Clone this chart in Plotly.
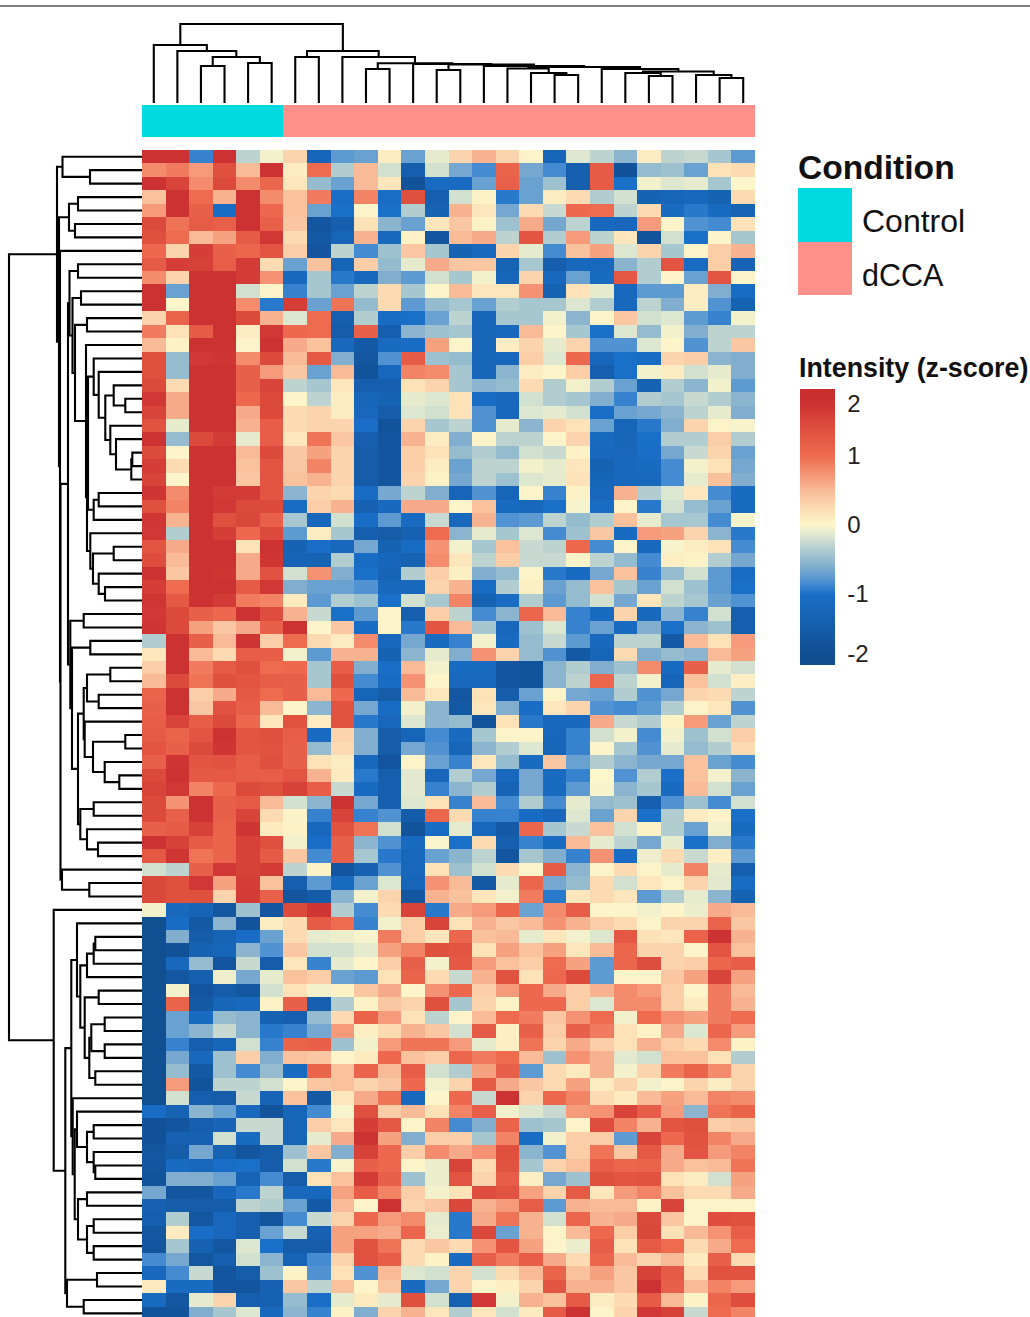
import numpy as np
import plotly.graph_objects as go

W, H = 1030, 1317

CONDITION = ["Control"] * 6 + ["dCCA"] * 20

# first 13 columns
LEFT_CELLS = [
[2,2,-0.9,2,-0.3,-0.05,0.3,-1.3,-0.75,-0.7,0.1,-0.7,-0.1],
[.8,.9,.7,1.5,.5,2,.1,1.0,-.35,.5,-.2,-1.5,-.2],
[2,1.7,.8,1.6,.8,1.1,.15,-.5,-.7,.5,.15,-1.9,-1.15],
[.45,2,1.0,.55,2,.8,.45,.9,-1.05,.85,-1.05,1.5,-1.5],
[.7,2,1.2,-1.1,2,1.05,.45,-.7,-1.0,.02,-1.0,-.35,-1.4],
[1.6,.95,1.3,1.2,2,1.2,.4,-1.8,-1.5,.2,-.55,-.7,.15],
[1.5,1.0,.5,.65,1.3,1.9,.25,-1.7,-1.3,.55,-1.2,.05,-1.8],
[1.05,.3,1.8,1.2,1.1,1.4,.35,-1.8,-.3,-.85,-.45,.4,-.4],
[1.3,1.8,1.75,1.25,1.85,.25,-.7,.45,-1.3,.35,-.5,-.1,.6],
[.8,.3,2,2,1.85,.75,-1.2,-.4,-.95,-1.2,-.6,-.75,-.2],
[2,-.7,2,2,-.2,.02,-.9,-.4,-.7,-.3,.25,-.4,.02],
[2,.0,2,2,.8,-.95,1.8,-.7,.95,-.5,.25,-.75,-.5],
[.3,1.15,2,2,1.6,.55,-.15,1.0,-1.5,-.35,-1.1,-1.0,-.7],
[.9,.2,1.3,2,.1,1.9,1.05,1.0,-1.6,1.2,-1.5,-.55,-.45],
[.5,.05,2,2,.03,2,.6,.45,-1.2,-1.65,-1.15,-1.1,.65],
[1.5,-.5,1.9,1.95,.8,1.6,.5,1.35,-.6,-1.75,-.8,1.3,-.45],
[1.5,-.5,2,2,1.2,.7,.4,-.7,.5,-1.85,-1.25,.85,.8],
[1.6,.25,2,2,1.2,1.7,-.3,-.4,.15,-1.5,-1.5,.2,.3],
[1.9,.6,2,2,1.05,1.6,.02,-.3,.1,-1.3,-1.4,-.1,-.15],
[1.7,.6,2,2,.6,1.6,.25,.3,.1,-1.25,-1.55,-.15,-.2],
[1.45,-.1,2,2,.55,1.25,.25,.3,.3,-1.05,-1.85,.3,-.4],
[2,-.5,1.6,1.85,-.1,1.25,.15,.95,.4,-1.5,-1.8,.55,.1],
[1.6,.02,2,2,.5,1.6,.4,.65,.3,-1.6,-1.8,.35,.2],
[1.8,.25,2,2,.45,1.4,.4,.85,.3,-1.6,-1.8,.35,.1],
[1.7,.02,2,2,.4,1.4,.45,.55,.3,-1.6,-1.8,.3,.05],
[1.95,.8,2,1.85,1.85,1.4,-.55,.3,.25,-1.1,-.65,-.3,-.6],
[1.5,.85,2,1.9,1.6,1.6,-1.1,.35,.55,-1.45,-1.2,.6,.6],
[1.95,.55,2,1.5,1.65,1.2,-.4,-1.25,-.2,-1.05,-.75,-1.15,-.25],
[1.9,-.35,2,1.8,1.05,1.6,-.75,.1,-.4,-1.5,-1.6,-1.45,1.0],
[1.4,.6,2,2,.2,2,-1.4,-1.05,-1.2,-.65,-1.4,-1.1,.75],
[1.55,.5,2,2,.6,1.95,-1.35,-1.4,-.35,-1.1,-1.25,-1.4,.8],
[2,.4,2,1.95,.6,1.45,-.2,.75,-.6,-1.0,-1.35,-.35,.35],
[1.8,1.0,2,2,1.3,1.9,-.6,-.7,-.7,-.8,-1.2,-1.2,.3],
[1.95,1.35,2,1.85,.9,.85,.12,-.75,-.35,-.45,-1.0,-.2,-.4],
[1.9,1.6,1.2,1.05,2,1.55,.55,-.25,-1.0,-.75,.02,-1.5,.35],
[1.95,1.6,.65,.4,.6,1.2,2,.02,.4,-1.1,.02,-.95,1.4],
[-.35,2,1.2,.5,1.95,.35,1.0,.25,.1,.8,-1.25,-.65,-1.15],
[.15,2,.5,.25,1.25,1.25,-.05,-.75,.55,.55,-1.4,-.55,-.1],
[.35,2,.9,1.3,1.5,1.0,1.05,-.4,1.25,-.6,-1.05,.5,-.05],
[.5,1.6,.95,1.5,1.4,1.25,1.2,-.4,1.5,-.85,-1.1,.75,.02],
[1.15,2,.35,.6,1.35,1.0,1.2,.5,1.05,-1.3,-1.6,.5,.15],
[1.2,2,.4,1.45,1.25,.5,.02,-.55,1.45,-.65,-1.1,-.05,-.55],
[1.25,1.7,1.25,1.6,1.05,.15,1.45,.1,1.45,-.95,-1.25,-.15,-.55],
[1.3,1.15,1.4,2,1.4,1.5,1.25,-1.15,.3,-.6,-1.6,-1.3,-.85],
[1.4,1.2,1.6,1.95,1.4,1.45,1.2,-.5,.25,-.6,-1.6,-.65,-.8],
[1.2,1.95,1.4,1.45,1.25,1.5,1.2,.2,.1,-1.2,-1.8,.03,-.7],
[1.6,2,1.35,1.35,1.25,1.25,1.4,.55,.12,-.95,-1.5,-.12,-1.25],
[1.7,1.9,.85,1.05,1.6,1.5,1.75,1.25,-.25,-1.15,-1.5,-.12,-.9],
[1.6,.75,2,1.2,1.3,.5,-.2,-.55,2,-.65,-1.5,-.15,.2],
[1.6,1.2,2,1.2,1.7,.25,.03,-.9,1.7,-.9,-.8,-1.55,1.1],
[1.2,1.3,1.75,1.15,1.95,.12,.05,-1.2,1.45,.95,-.2,-1.85,-1.1],
[2,1.75,1.3,1.15,1.75,1.5,-.05,-1.05,1.2,-.55,-.8,-1.15,-.02],
[1.35,1.95,.95,1.15,1.75,1.3,.4,-.85,1.2,-.4,-.95,-1.25,-.7],
[-.2,-.3,1.2,1.9,1.75,1.85,-.3,.05,-1.8,-1.45,-.8,-1.25,.2],
[1.65,1.5,1.9,.65,1.8,.45,-1.5,-.75,-1.15,-.7,-.15,-1.3,.75],
[1.65,1.5,1.5,.3,1.85,1.2,-1.8,-1.55,-.55,-.05,.3,-1.8,.55],
[-.05,-1.2,-1.35,-1.75,-.45,-1.8,1.6,1.95,-.35,-.85,.25,1.7,-.95],
[-2,-1.1,-1.7,-.55,-1.85,.1,.25,1.3,1.0,-.9,-.05,.35,1.7],
[-2,-.6,-1.6,-1.4,-1.05,-.7,.25,-.1,-.07,-.03,.9,.35,.15],
[-2,-1.9,-1.4,-1.3,-.55,-.8,.4,-.2,-.2,-.1,.65,.85,1.5],
[-2,-1.2,-.5,-1.8,-.25,-1.55,.15,-.9,-.1,.02,.35,1.2,-.05],
[-2,-1.75,-1.5,-.07,-.65,-.1,.45,.35,-.7,-.75,.2,1.15,.25],
[-2,-.05,-1.8,-1.55,-1.75,-.2,.2,-.05,.05,.4,.6,.02,.75],
[-2,1.15,-1.7,-1.3,-1.2,.05,1.2,-1.5,-.35,.05,.4,.3,1.5],
[-2,-.7,-1.15,-.5,-.55,-1.4,-1.5,-.5,.25,1.15,.7,.2,-.3],
[-2,-.7,-.55,-.25,-.55,-.95,-.9,-.65,.7,.08,.25,.55,.4],
[-2,-.9,-1.5,-1.3,-.2,-.9,1.15,1.2,-.45,-.05,.7,.95,.95],
[-2,-.65,-1.2,-.45,.35,-.6,.45,.4,.02,.12,1.05,.45,.35],
[-2,-.5,-1.7,-.45,-.85,-.5,-1.15,1.15,.45,1.15,.5,1.25,-.2],
[-2,.7,-1.85,-.3,-.3,-.2,.02,.4,.45,.3,.4,1.05,-.05],
[-2,-.2,-1.5,-1.6,-.25,-1.35,.45,-1.7,.15,.6,.95,-1.2,.02],
[-1.05,-1.4,-.55,-.7,-1.2,-1.85,-1.3,-.85,-.03,1.5,.35,.5,.2],
[-1.9,-1.8,-1.5,-1.35,-.25,-.25,-1.3,.35,.15,1.8,1.35,.03,.85],
[-1.9,-1.45,-1.45,-.2,-1.15,-.25,-1.3,-.1,.6,2,.65,-.6,.35],
[-1.75,-1.6,-.65,-1.4,-1.8,-1.6,-.45,.4,-.6,1.75,1.05,.35,.8],
[-1.8,-1.15,-1.25,-1.05,-1.0,-1.55,-.2,-.95,-.03,1.2,1.05,.02,-.08],
[-1.85,-.6,-.6,-.7,-1.35,-.85,-1.6,.2,.45,1.85,1.2,-.45,-.08],
[-.65,-1.8,-1.75,-1.25,-.95,-.3,-1.2,-1.2,.65,1.25,.85,.35,-.05],
[-1.45,-1.6,-1.55,-1.55,-.3,-.35,-.7,-1.65,.5,.03,2,.3,.4],
[-1.5,-.35,-1.75,-1.25,-1.5,-1.8,-.85,-.25,.3,1.05,.7,.8,-.1],
[-1.75,.12,-1.05,-1.25,-1.5,-.7,-.25,-1.45,.65,.65,.6,1.1,-.08],
[-1.8,-.4,-1.45,-1.75,-.15,-1.0,-1.55,-1.55,.65,1.45,.95,.25,.4],
[-.85,-.65,-1.75,-1.5,-.2,-.55,-1.35,-.85,.3,1.45,1.25,.25,.05],
[-1.2,-.85,-.25,-1.8,-1.6,-.45,.05,-.8,.2,-.8,.5,-.15,-.2],
[.12,-1.15,-1.15,-1.8,-1.8,-1.45,.4,-.3,.45,.02,.4,-1.15,-.65],
[-1.15,-1.75,-.1,.3,-1.5,-1.45,-.5,-1.05,-.1,.12,-.1,1.5,-.2],
[-1.85,-1.85,-.6,-.4,-.15,-1.2,-.55,-.9,.05,-.6,.3,.55,.15],
]

# last 13 columns
RIGHT_CELLS = [
[.3,.55,.3,.03,-1.3,-.15,-.3,-.55,.1,-.3,-.25,-.4,-.75],
[-.65,-.85,1.15,-.65,-.85,-1.5,1.3,-1.9,-.5,-.45,-.7,.2,.25],
[-1.15,-.7,1.2,-.7,-.45,-1.5,1.3,-1.0,-.05,-.15,-.1,-.4,.0],
[-.2,.05,-.95,-.7,.1,.25,-.35,-.2,-1.4,-1.3,-1.2,-1.4,.25],
[.55,.15,-.65,.25,-.25,1.05,1.0,-.3,.25,-1.15,-.95,-1.15,-1.35],
[.4,.05,-.45,.6,-.65,-.3,-1.2,-1.25,.7,.03,-.8,-.85,.2],
[.5,.6,-.3,1.4,-.35,.7,-.3,.15,-1.85,-.2,-1.0,.02,-.4],
[-1.4,-1.2,.3,-.1,-.85,.45,.65,-.15,.3,-.4,.02,.35,.55],
[.4,.4,-1.4,-.4,-1.5,-1.2,-1.2,-.55,-.35,1.4,-1.15,.35,-1.35],
[-.4,-.05,-1.3,.3,-1.2,-.7,-1.15,1.35,-.35,.02,-.7,1.4,.02],
[.5,.15,.15,.75,-1.4,.2,-.1,-1.2,-.75,-.75,.1,-.6,-1.1],
[-.4,-.7,-.35,-.4,-.4,-.15,-.35,-1.2,-.3,-.6,.1,-.8,-1.4],
[-.3,-1.3,-.4,-.4,-.05,-.55,.03,.4,-.2,-.15,-.75,-.9,-.05],
[-.4,-1.3,-1.2,.5,.02,-.4,-1.0,-.15,-.5,-.05,-.6,-.3,-.3],
[.02,-1.3,.1,.3,-.1,.3,-.8,-.8,-.15,.02,-.8,-.3,.4],
[-.5,-1.3,-1.25,.35,-.15,1.05,-1.25,-1.0,-1.1,.3,.35,-.55,-.6],
[-.4,-1.3,-.55,.1,.02,.35,-1.5,-1.0,-.05,.1,-.2,-.1,-.6],
[-.4,-.55,-.5,.25,-.35,-.05,-.35,-.7,-1.4,-.35,-.55,-.05,-.75],
[.2,-1.1,-1.2,-.2,-.35,-.4,-.6,-.9,-.35,-.4,-.25,-.35,-.55],
[.2,-.8,-1.2,-.15,-.1,-.2,-1.05,-.7,-.65,-.55,-.3,-.1,-.6],
[-.3,-.8,-.1,-.55,.3,.2,-.7,-1.3,-.95,-.6,.3,.03,-.03],
[-.6,.03,-.3,-.3,.03,.3,-1.15,-1.3,-1.0,-.35,-.35,.35,-.35],
[-.5,-.35,-.5,-.2,-.25,.05,-1.2,-1.25,-1.05,-.65,-.25,.3,-.7],
[-.7,-.3,-.3,-.05,-.1,.15,-1.4,-1.2,-1.15,-.85,-.05,.2,-.65],
[-.65,-.3,-.45,-.15,-.1,.2,-1.3,-1.2,-1.2,-.85,-.1,.45,-.6],
[-1.3,-.8,-1.3,.03,-.9,.05,-1.25,.55,-.35,-.15,.15,-.85,-1.15],
[.02,.45,-1.15,-1.2,-1.0,-.03,-1.1,.03,-.95,-.2,-.5,-.7,-1.15],
[-1.2,.55,-.8,-.75,-.3,-.5,-.35,.45,-.1,-.4,-.4,-.85,-.03],
[-.55,-.1,-.4,-.15,-.85,-.45,.4,-1.15,.7,.65,.3,-.55,-.95],
[-.05,-.4,.45,-.25,-.3,1.05,-.85,.02,-1.2,-.03,.1,.2,-.85],
[.15,-.3,.35,-.25,-.25,.03,-.3,-.5,-.85,.08,.05,-.35,-.65],
[.07,-.6,-.5,.03,-.95,-1.15,-.65,.45,-.9,-.5,-.2,-.75,-1.1],
[.55,-1.1,-.35,.07,-.7,-.5,.45,-.4,-.7,-.2,-.45,-.75,-1.0],
[.85,-1.4,-1.1,-.35,-.75,-.5,-.2,-.65,.15,-.3,-.4,-.7,-.8],
[-.3,-.85,-.55,1.1,.5,-.9,-1.15,.3,-1.2,-.55,-.9,-.2,-1.5],
[.5,-.4,-1.25,-.45,-.15,-.9,-.7,-1.15,-.6,-1.0,-.55,-.45,-1.5],
[-.9,-.05,-1.15,-.5,-.25,-.75,-1.2,-.3,-.3,-1.65,.5,.2,.7],
[-.6,.75,.3,-.5,-.8,-1.7,-1.3,.25,-.6,-.5,-.55,.5,.65],
[-1.15,-1.15,-1.8,-1.85,-.55,-.35,-.6,-.45,.8,-1.15,1.2,-.1,-.2],
[-1.2,-1.2,-1.8,-1.85,-.55,-.3,1.1,-.3,-.05,-1.3,.45,-.2,.08],
[-1.75,.2,-1.55,-.7,.03,-.65,-.7,-.35,-.8,-.65,.3,.25,-.3],
[-1.7,.15,-.6,-1.1,.15,.3,-.8,-.85,-.75,-.35,.03,.15,-.8],
[-.5,-1.85,.2,-.95,-1.2,-1.2,.6,-.25,-.35,.05,.7,-.7,-.3],
[-1.15,-.4,.03,.03,-1.25,-.9,-.2,-.05,-.85,-.05,-.45,-.2,.35],
[-1.3,-.55,-.35,-.15,-1.3,-.9,.02,-.4,-.8,-.1,-.5,-.35,.25],
[-.9,.15,-.5,-1.15,.4,-.7,-.35,-.55,-.65,-.65,.45,-.7,-.85],
[-.35,-.65,-1.2,-.65,-1.15,-.9,.0,-.8,-.35,-1.0,.45,-.05,-.55],
[-.55,-.35,-1.35,-.65,-1.15,-.75,-.03,-.55,-.4,-1.15,.5,-.2,-.7],
[-.9,.5,-.85,-.35,-.85,-.1,-.5,-.45,-1.5,-.8,-.45,-.85,-.2],
[.25,-.9,-.9,-1.1,-1.25,-.15,-.7,.3,-1.0,-.35,.1,.03,-1.0],
[-.1,-1.2,-1.65,1.1,-.4,-.25,.45,-.2,.05,-.35,-.7,-.05,-1.15],
[-1.0,.25,-1.5,-.9,-1.15,.5,-.1,-.3,-.65,-.1,-1.0,-.6,-.95],
[-.55,-.3,-1.8,-.4,-.6,-.9,.75,-1.1,-.07,.25,-.25,.08,-.75],
[-.45,-.2,.25,.03,1.3,-.55,.03,.25,.03,-.1,.85,-.1,-1.5],
[.5,-1.7,-.1,1.1,-.65,-.5,.25,-.2,.15,.03,.3,-.12,-1.1],
[.45,.15,-.05,.9,-.95,.15,.25,.15,-.75,-.35,-.1,-.55,-1.4],
[.6,.7,1.1,-.7,.8,1.25,.02,.02,-.05,.02,-.08,.6,.5],
[.2,.55,.4,.5,.75,.55,.35,.25,.03,.3,.3,1.15,.4],
[1.1,.45,.5,-.1,.15,-.05,-.15,1.35,.2,.15,1.15,2,.55],
[1.4,.2,.65,.45,.65,.15,.5,1.1,.3,.3,.02,1.4,.45],
[1.35,.7,.45,.35,1.0,.65,-.75,1.1,1.55,.3,.35,1.1,1.25],
[-.25,.55,1.45,.2,1.05,1.6,-.75,.02,.02,.4,.65,1.7,.65],
[1.05,.35,.7,1.05,.6,.35,.55,.8,.7,.35,.02,.9,.5],
[-.4,.3,.05,1.05,1.05,.35,-.15,.8,.8,.35,.12,.9,.55],
[.03,.5,1.0,.9,.4,.75,1.0,-.05,1.0,.75,.65,.9,1.0],
[-.2,1.3,.08,1.2,.35,1.2,.9,.2,.05,.6,-.15,1.1,.7],
[.7,-.1,.08,.95,.3,.6,.35,.2,.55,.35,.25,.8,.05],
[1.1,.9,1.0,.5,-.45,.75,.55,-.12,-.2,.45,.45,.2,-.35],
[-.35,.65,1.2,-.75,.25,.12,.55,-.05,.3,.9,1.15,.8,.3],
[.3,1.3,.6,.4,.25,.65,.1,.3,-.05,.03,.3,.1,.3],
[1.05,-.25,2,.3,1.05,.85,.25,.12,.5,.65,.5,.85,.8],
[.85,1.25,-.05,-.15,-.25,.7,.75,1.7,1.25,.7,-.55,.95,1.15],
[-.85,-.6,1.15,-.45,-.4,.03,1.55,.85,.55,1.4,1.5,.35,.4],
[.35,-.4,.85,-1.1,-.05,.35,.35,-.75,1.7,1.05,1.45,.85,.6],
[.6,.75,1.5,-.55,-.8,.35,.95,.4,1.35,.6,1.4,.7,.85],
[1.7,.25,1.45,-.4,.3,.45,1.25,1.1,1.15,.6,.45,.5,.95],
[1.4,.3,1.25,.08,-.65,-.45,1.5,1.4,1.45,.2,.1,-.2,.65],
[.2,1.55,1.45,.65,.3,1.3,.15,.7,.85,.45,.25,.25,.6],
[1.65,.55,.7,1.25,-.75,.55,.5,.5,.05,1.7,.03,.03,.02],
[-.95,.6,.95,.55,-.2,1.1,.55,.6,1.6,.4,.03,1.55,1.5],
[-.95,1.65,-.7,.55,.03,.5,1.05,.35,1.65,.2,.5,.75,1.25],
[.25,.75,1.4,.65,.03,-.08,1.25,.2,1.3,1.0,.25,.6,1.0],
[-1.15,1.2,.9,1.25,.6,.25,1.1,.5,.3,.5,.12,1.2,.25],
[.3,-.2,.25,.5,1.15,.45,.65,.4,1.75,1.3,.25,1.45,1.45],
[.3,.02,.08,.3,1.4,.55,.55,.4,2,1.2,.5,.85,.7],
[-1.45,1.9,-.05,.55,.45,1.3,.1,.25,1.3,.5,.05,1.1,1.55],
[-.35,.15,-.2,.12,1.3,2,.03,.3,1.9,1.75,-.25,1.0,.85],
]

# dendrograms: [height, left child, right child]; 0 is a leaf, numbered in order
COL_TREE = [79,
    [58, 0, [52, 0, [46, [37, 0, 0], [40, 0, 0]]]],
    [52, [46, 0, 0],
     [46, 0,
      [39.7, [34, 0, 0],
       [39, 0,
        [38.5, [33, 0, 0],
         [37, 0,
          [36, [34.5, 0, [30, 0, [28, 0, 0]]],
           [34, 0,
            [31.5, [30, 0, [27, 0, 0]], [28, 0, [25, 0, 0]]]]]]]]]]]]

ROW_A = [48.3, 0, [43.3, 0, [36.7, [28.3, 0, [16.7, 0, 0]],
                            [31.7, 0, [26, 0, [10.7, [9.7, 0, 0], 0]]]]]]
ROW_H = [48.3, [43.3, 0, 0], 0]
ROW_K = [51.7, 0, [49, [28.3, 0, 0], [43.3, 0, [37, 0, 0]]]]
ROW_T0 = [69.5, [61, 0, 0], [67, [55, 0, 0], [56, 0, [55, [54, ROW_A, ROW_H], ROW_K]]]]
ROW_Q5 = [58.3, [55, [31.7, 0, 0], [43.3, 0, 0]],
          [57.3, 0, [49, [16.7, 0, 0], [37.3, 0, [22.7, 0, 0]]]]]
ROW_Z1 = [61.7, [48.3, 0, 0], [55, 0, [44, 0, 0]]]
ROW_Q = [74, [72.5, [64, 0, 0], ROW_T0],
         [71.7, [58.3, 0, 0], [70, [51.7, 0, 0], [64, ROW_Q5, ROW_Z1]]]]
ROW_TOP = [85, [79.5, 0, [52, 0, 0]],
           [83, [73, [64, 0, 0], [67, 0, 0]],
            [82, 0, [81.5, ROW_Q, [80, 0, [52.7, 0, 0]]]]]]
ROW_B9 = [52.7, [50.7, [37.3, 0, 0], [37.3, 0, 0]], [46.7, 0, 0]]
ROW_B4 = [65, 0, [61.7, [55, [48.3, [46.7, 0, 0], 0], 0],
                  [57.3, [43.3, 0, 0], ROW_B9]]]
ROW_B5 = [69.3, 0,
          [67.3, [65, 0, [55, [48.3, 0, 0], [48.3, 0, [46.7, 0, 0]]]],
           [64, [55, 0, 0], [55, [48.3, 0, 0], [48.3, 0, 0]]]]]
ROW_BOT = [88.3, 0, [76.7, [70.7, ROW_B4, ROW_B5], [75, [45, 0, 0], [58.3, 0, 0]]]]
ROW_TREE = [133, ROW_TOP, ROW_BOT]

# colour axis: the legend bar is not linear in z
Z_TICKS = [-2.2, -2, -1, 0, 1, 2, 2.27]
BAR_POS = [0, .043, .257, .507, .757, .946, 1]
COLORS = [[0, "#114e90"], [.043, "#114f93"], [.257, "#1a6fc9"], [.30, "#4a8fd2"],
          [.36, "#84b0cf"], [.42, "#b1cdd0"], [.47, "#dde6cf"], [.507, "#fdf6cb"],
          [.56, "#fde0b6"], [.63, "#f8bb98"], [.70, "#f48f70"], [.757, "#ee6b50"],
          [.85, "#e0503f"], [.946, "#cd3232"], [1, "#c92e2e"]]
TICK_LABELS = [2, 1, 0, -1, -2]


def tree_lines(tree):
    leaf = [0]
    pos, hts = [], []

    def walk(node):
        if node == 0:
            leaf[0] += 1
            return leaf[0] - 1, 0
        h, a, b = node
        pa, ha = walk(a)
        pb, hb = walk(b)
        pos.extend([pa, pa, pb, pb, None])
        hts.extend([ha, h, h, hb, None])
        return (pa + pb) / 2, h

    walk(tree)
    return pos, hts


def xd(a, b):
    return [a / W, b / W]


def yd(top, bottom):
    return [1 - bottom / H, 1 - top / H]


cells = np.hstack([np.array(LEFT_CELLS, float), np.array(RIGHT_CELLS, float)])
bar_cells = np.interp(cells, Z_TICKS, BAR_POS)
n_rows, n_cols = cells.shape
ROW_PX = 13.45
HEAT_TOP = 150

fig = go.Figure()
fig.add_trace(go.Heatmap(
    z=bar_cells, x=list(range(n_cols)), y=list(range(n_rows)),
    colorscale=COLORS, zmin=0, zmax=1, customdata=cells,
    hovertemplate="%{customdata:.2f}<extra></extra>",
    xaxis="x", yaxis="y",
    colorbar=dict(
        x=800 / W, xanchor="left", y=1 - 389 / H, yanchor="top",
        thickness=35, thicknessmode="pixels", len=276, lenmode="pixels",
        xpad=0, ypad=0, outlinewidth=0, borderwidth=0,
        tickmode="array",
        tickvals=[float(np.interp(t, Z_TICKS, BAR_POS)) for t in TICK_LABELS],
        ticktext=[str(t) for t in TICK_LABELS],
        ticks="outside", ticklen=8, tickcolor="rgba(0,0,0,0)", tickwidth=1,
        tickfont=dict(family="Liberation Sans", size=24, color="#222222"),
    ),
))

fig.add_trace(go.Heatmap(
    z=[[0 if c == "Control" else 1 for c in CONDITION]],
    x=list(range(n_cols)), text=[CONDITION],
    hovertemplate="%{text}<extra></extra>",
    colorscale=[[0, "#00DAE0"], [1, "#FF908A"]], zmin=0, zmax=1, showscale=False,
    xaxis="x2", yaxis="y2",
))

tx, ty = tree_lines(COL_TREE)
fig.add_trace(go.Scatter(x=tx, y=ty, mode="lines", hoverinfo="skip", showlegend=False,
                         line=dict(color="black", width=2.1), xaxis="x3", yaxis="y3"))
ly, lx = tree_lines(ROW_TREE)
fig.add_trace(go.Scatter(x=lx, y=ly, mode="lines", hoverinfo="skip", showlegend=False,
                         line=dict(color="black", width=2.1), xaxis="x4", yaxis="y4"))

hidden = dict(visible=False, showgrid=False, zeroline=False, fixedrange=True)
col_range = [-0.5, n_cols - 0.5]
row_range = [(H - HEAT_TOP) / ROW_PX - 0.5, -0.5]

fig.update_layout(
    width=W, height=H, autosize=False,
    margin=dict(l=0, r=0, t=0, b=0, pad=0),
    paper_bgcolor="white", plot_bgcolor="white", showlegend=False,
    font=dict(family="Liberation Sans", color="#111111"),
    xaxis=dict(domain=xd(142, 755), range=col_range, anchor="y", **hidden),
    yaxis=dict(domain=yd(HEAT_TOP, H), range=row_range, anchor="x", **hidden),
    xaxis2=dict(domain=xd(142, 755), range=col_range, anchor="y2", **hidden),
    yaxis2=dict(domain=yd(105, 137), range=[-0.5, 0.5], anchor="x2", **hidden),
    xaxis3=dict(domain=xd(142, 755), range=col_range, anchor="y3", **hidden),
    yaxis3=dict(domain=yd(14, 103), range=[0, 89], anchor="x3", **hidden),
    xaxis4=dict(domain=xd(0, 142), range=[142, 0], anchor="y4", **hidden),
    yaxis4=dict(domain=yd(HEAT_TOP, H), range=row_range, anchor="x4", **hidden),
    shapes=[
        dict(type="line", xref="paper", yref="paper", x0=0, x1=1,
             y0=1 - 6 / H, y1=1 - 6 / H, line=dict(color="#555555", width=1.5)),
        dict(type="rect", xref="paper", yref="paper", x0=798 / W, x1=852 / W,
             y0=1 - 242 / H, y1=1 - 188 / H, fillcolor="#00DAE0", line_width=0),
        dict(type="rect", xref="paper", yref="paper", x0=798 / W, x1=852 / W,
             y0=1 - 295 / H, y1=1 - 242 / H, fillcolor="#FF908A", line_width=0),
    ],
)

for text, x, y, size, bold in [
    ("Condition", 798, 168, 33.6, True),
    ("Control", 862, 221, 32, False),
    ("dCCA", 862, 275, 30.5, False),
    ("Intensity (z-score)", 799, 368, 26.8, True),
]:
    fig.add_annotation(
        text=f"<b>{text}</b>" if bold else text,
        x=x / W, y=1 - y / H, xref="paper", yref="paper",
        xanchor="left", yanchor="middle", showarrow=False, align="left",
        xshift=0, borderpad=0, borderwidth=0,
        font=dict(family="Liberation Sans", size=size, color="#111111"),
    )

fig.write_html(
    "out.html",
    config={"displayModeBar": False},
    post_script="document.body.style.margin='0';document.documentElement.style.overflow='hidden';",
)
